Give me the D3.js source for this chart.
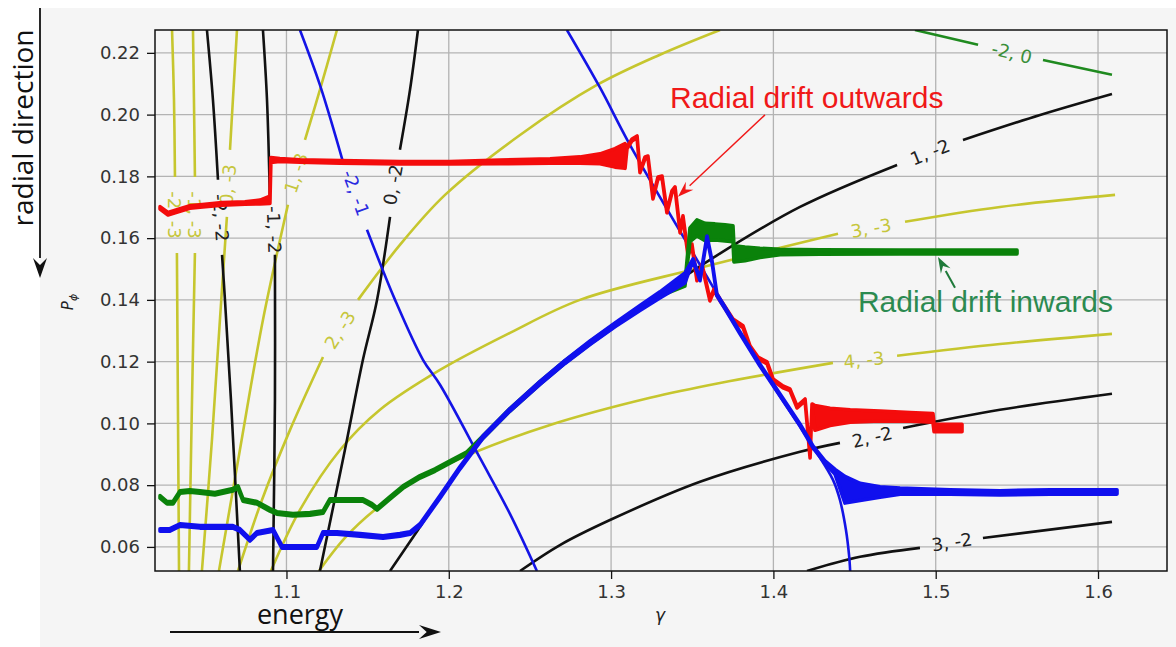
<!DOCTYPE html>
<html>
<head>
<meta charset="utf-8">
<script src="https://cdn.jsdelivr.net/npm/d3@7"></script>
<style>
  body { margin: 0; background: #fff; }
  svg { display: block; }
</style>
</head>
<body>
<svg id="chart"></svg>
<script>
// axis ranges and ticks
const xDomain = [1.019, 1.6425];
const yDomain = [0.0522, 0.2274];
const xTicks = [1.1, 1.2, 1.3, 1.4, 1.5, 1.6];
const yTicks = [0.06, 0.08, 0.10, 0.12, 0.14, 0.16, 0.18, 0.20, 0.22];

// resonance lines (n, m): label, label anchor [gamma, P, angle], segments
const yellowFamily = [
  {label: "-2, -3", at: [1.0313, 0.1675, 90], segs: [[[1.0295,0.2274],[1.0307,0.2048],[1.0313,0.1798]], [[1.0325,0.1552],[1.0331,0.1076],[1.0338,0.0522]]]},
  {label: "-1, -3", at: [1.0436, 0.1675, 90], segs: [[[1.0424,0.2274],[1.0430,0.2048],[1.0436,0.1798]], [[1.0436,0.1552],[1.0418,0.1076],[1.0399,0.0522]]]},
  {label: "0, -3", at: [1.0639, 0.1773, -85], segs: [[[1.0695,0.2274],[1.0670,0.2048],[1.0652,0.1886]], [[1.0633,0.1669],[1.0590,0.1335],[1.0541,0.0947],[1.0479,0.0522]]]},
  {label: "1, -3", at: [1.1059, 0.1811, -72], segs: [[[1.1311,0.2274],[1.1206,0.2080],[1.1114,0.1918]], [[1.1009,0.1708],[1.0855,0.1335],[1.0713,0.0914],[1.0584,0.0522]]]},
  {label: "2, -3", at: [1.1330, 0.1303, -57], segs: [[[1.3671,0.2274],[1.3301,0.2194],[1.2913,0.2096],[1.2439,0.1934],[1.1977,0.1740],[1.1699,0.1578],[1.1441,0.1400]], [[1.1225,0.1215],[1.1022,0.0979],[1.0849,0.0752],[1.0701,0.0522]]]},
  {label: "3, -3", at: [1.4601, 0.1633, -10], segs: [[[1.0904,0.0522],[1.1083,0.0720],[1.1330,0.0914],[1.1576,0.1044],[1.1946,0.1173],[1.2377,0.1293],[1.2808,0.1400],[1.3548,0.1504],[1.4398,0.1614]], [[1.4811,0.1653],[1.5396,0.1701],[1.6105,0.1740]]]},
  {label: "4, -3", at: [1.4558, 0.1206, -6], segs: [[[1.1200,0.0522],[1.1360,0.0629],[1.1545,0.0720],[1.1823,0.0824],[1.2149,0.0904],[1.2624,0.0995],[1.3240,0.1083],[1.3671,0.1131],[1.4367,0.1196]], [[1.4762,0.1219],[1.5396,0.1257],[1.6086,0.1290]]]}
];

const blackFamily = [
  {label: "-2, -2", at: [1.0596, 0.1666, 86], segs: [[[1.0510,0.2274],[1.0547,0.2048],[1.0578,0.1789]], [[1.0603,0.1546],[1.0621,0.1400],[1.0658,0.1076],[1.0713,0.0522]]]},
  {label: "-1, -2", at: [1.0923, 0.1627, 88], segs: [[[1.0855,0.2274],[1.0880,0.2048],[1.0898,0.1724]], [[1.0929,0.1546],[1.0929,0.1076],[1.0917,0.0522]]]},
  {label: "0, -2", at: [1.1656, 0.1773, -80], segs: [[[1.1810,0.2274],[1.1761,0.2080],[1.1699,0.1886]], [[1.1638,0.1669],[1.1558,0.1400],[1.1471,0.1206],[1.1360,0.0914],[1.1206,0.0522]]]},
  {label: "1, -2", at: [1.4965, 0.1879, -22], segs: [[[1.1638,0.0522],[1.1810,0.0655],[1.1946,0.0762],[1.2211,0.0956],[1.2562,0.1131],[1.2870,0.1261],[1.3178,0.1368],[1.3425,0.1465],[1.3628,0.1536],[1.4164,0.1701],[1.4762,0.1837]], [[1.5168,0.1918],[1.5643,0.1999],[1.6086,0.2067]]]},
  {label: "2, -2", at: [1.4608, 0.0956, -13], segs: [[[1.2439,0.0522],[1.2685,0.0606],[1.2993,0.0687],[1.3548,0.0811],[1.4164,0.0908],[1.4410,0.0937]], [[1.4799,0.0985],[1.5396,0.1044],[1.6086,0.1096]]]},
  {label: "3, -2", at: [1.5100, 0.0616, -9], segs: [[[1.4207,0.0522],[1.4534,0.0568],[1.4903,0.0597]], [[1.5291,0.0629],[1.6086,0.0681]]]}
];

const blueFamily = [
  {label: "-2, -1", at: [1.1428, 0.1747, 70], segs: [[[1.1083,0.2274],[1.1206,0.2096],[1.1348,0.1847]], [[1.1496,0.1627],[1.1669,0.1400],[1.1841,0.1206],[1.1946,0.1125],[1.2192,0.0888],[1.2377,0.0707],[1.2543,0.0522]]]},
  {label: "", at: null, segs: [[[1.2728,0.2274],[1.2932,0.2087],[1.3116,0.1902],[1.3548,0.1513],[1.3917,0.1189],[1.4244,0.0924],[1.4367,0.0817],[1.4410,0.0752],[1.4447,0.0655],[1.4466,0.0574],[1.4473,0.0522]]]}
];

const greenFamily = [
  {label: "-2, 0", at: [1.5470, 0.2200, 14], segs: [[[1.4872,0.2274],[1.5261,0.2226]], [[1.5661,0.2177],[1.6086,0.2129]]]}
];

// particle tracks: [gamma, P_phi, half-width of the oscillation]
const redTrack = [
  [1.0221,0.1698,.0004],[1.0270,0.1679,.0004],[1.0344,0.1691,.0004],[1.0405,0.1701,.0004],[1.0467,0.1704,.0004],
  [1.0603,0.1711,.0004],[1.0744,0.1714,.0004],[1.0837,0.1717,.0006],[1.0898,0.1724,.0012],[1.0904,0.1853,.0008],
  [1.0959,0.1853,.0005],[1.1083,0.1850,.0004],[1.1330,0.1847,.0004],[1.1699,0.1844,.0004],[1.2007,0.1844,.0004],
  [1.2315,0.1847,.0006],[1.2624,0.1850,.0007],[1.2808,0.1853,.0010],[1.2932,0.1857,.0016],[1.3024,0.1860,.0030],
  [1.3086,0.1866,.0040],[1.3098,0.1892,.0003],[1.3129,0.1918,.0003],[1.3160,0.1928,.0003],[1.3178,0.1815,.0003],
  [1.3209,0.1860,.0003],[1.3227,0.1863,.0003],[1.3258,0.1730,.0003],[1.3289,0.1795,.0003],[1.3314,0.1798,.0003],
  [1.3344,0.1685,.0003],[1.3375,0.1750,.0003],[1.3394,0.1763,.0003],[1.3425,0.1620,.0003],[1.3443,0.1669,.0003],
  [1.3474,0.1546,.0003],[1.3498,0.1578,.0003],[1.3529,0.1465,.0003],[1.3560,0.1513,.0003],[1.3609,0.1400,.0003],
  [1.3634,0.1432,.0003],[1.3671,0.1400,.0003],[1.3751,0.1335,.0003],[1.3813,0.1313,.0003],[1.3856,0.1248,.0003],
  [1.3905,0.1212,.0003],[1.3961,0.1196,.0003],[1.3998,0.1141,.0003],[1.4059,0.1118,.0003],[1.4102,0.1109,.0003],
  [1.4146,0.1053,.0003],[1.4195,0.1076,.0003],[1.4226,0.0891,.0003],[1.4238,0.1060,.0003],[1.4256,0.1018,.0040],
  [1.4349,0.1021,.0028],[1.4473,0.1024,.0020],[1.4657,0.1024,.0016],[1.4842,0.1021,.0014],[1.4983,0.1018,.0014],
  [1.4990,0.0985,.0012],[1.5070,0.0985,.0012],[1.5162,0.0985,.0012]
];

const greenTrack = [
  [1.0221,0.0762,.0004],[1.0264,0.0743,.0004],[1.0301,0.0743,.0004],[1.0344,0.0778,.0004],[1.0405,0.0781,.0004],
  [1.0467,0.0778,.0004],[1.0559,0.0772,.0004],[1.0670,0.0785,.0004],[1.0701,0.0794,.0004],[1.0732,0.0752,.0004],
  [1.0818,0.0743,.0004],[1.0898,0.0720,.0004],[1.0941,0.0710,.0004],[1.1040,0.0704,.0004],[1.1145,0.0707,.0004],
  [1.1225,0.0713,.0004],[1.1268,0.0752,.0004],[1.1360,0.0752,.0004],[1.1471,0.0752,.0004],[1.1527,0.0736,.0004],
  [1.1558,0.0723,.0004],[1.1638,0.0759,.0004],[1.1718,0.0794,.0004],[1.1823,0.0827,.0004],[1.1915,0.0849,.0004],
  [1.2007,0.0875,.0004],[1.2112,0.0904,.0004],[1.2211,0.0956,.0004],[1.2377,0.1044,.0004],[1.2562,0.1131,.0004],
  [1.2716,0.1199,.0004],[1.2870,0.1261,.0004],[1.3024,0.1319,.0004],[1.3178,0.1374,.0004],[1.3301,0.1416,.0004],
  [1.3455,0.1449,.0004],[1.3486,0.1611,.0022],[1.3529,0.1633,.0026],[1.3579,0.1620,.0028],[1.3640,0.1620,.0026],
  [1.3702,0.1617,.0026],[1.3751,0.1614,.0026],[1.3757,0.1549,.0026],[1.3825,0.1549,.0022],[1.3917,0.1552,.0015],
  [1.4041,0.1555,.0009],[1.4287,0.1555,.0007],[1.4780,0.1555,.0006],[1.5501,0.1555,.0006]
];

const blueTrack = [
  [1.0221,0.0655,.0004],[1.0282,0.0655,.0004],[1.0344,0.0671,.0004],[1.0467,0.0665,.0004],[1.0670,0.0665,.0004],
  [1.0713,0.0655,.0004],[1.0775,0.0623,.0004],[1.0818,0.0645,.0004],[1.0917,0.0655,.0004],[1.0972,0.0600,.0004],
  [1.1083,0.0600,.0004],[1.1188,0.0600,.0004],[1.1225,0.0645,.0004],[1.1311,0.0645,.0004],[1.1453,0.0639,.0004],
  [1.1595,0.0632,.0004],[1.1699,0.0639,.0004],[1.1761,0.0645,.0004],[1.1823,0.0671,.0004],[1.1946,0.0762,.0004],
  [1.2069,0.0856,.0004],[1.2211,0.0956,.0004],[1.2377,0.1044,.0004],[1.2562,0.1131,.0005],[1.2716,0.1199,.0005],
  [1.2870,0.1261,.0006],[1.3024,0.1319,.0006],[1.3178,0.1374,.0008],[1.3301,0.1416,.0010],[1.3394,0.1449,.0014],
  [1.3455,0.1471,.0016],[1.3505,0.1530,.0003],[1.3548,0.1465,.0003],[1.3591,0.1604,.0003],[1.3622,0.1523,.0003],
  [1.3652,0.1416,.0003],[1.3702,0.1374,.0003],[1.3794,0.1293,.0003],[1.3917,0.1189,.0003],[1.4041,0.1092,.0003],
  [1.4164,0.0995,.0003],[1.4244,0.0924,.0003],[1.4318,0.0875,.0004],[1.4380,0.0843,.0008],[1.4441,0.0785,.0043],
  [1.4534,0.0778,.0028],[1.4657,0.0778,.0017],[1.4780,0.0781,.0010],[1.5088,0.0778,.0007],[1.5396,0.0775,.0007],
  [1.5704,0.0778,.0007],[1.6117,0.0778,.0007]
];

// annotations in data units: text anchor and arrow from -> to
const outwardNote = {text: "Radial drift outwards", at: [1.3363, 0.2022], from: [1.3948, 0.1999], to: [1.3412, 0.1734]};
const inwardNote = {text: "Radial drift inwards", at: [1.4521, 0.1361], from: [1.5119, 0.1439], to: [1.5014, 0.1539]};

const width = 1176;
const height = 647;
const plot = {left: 155, right: 1167, top: 30, bottom: 571};

const svg = d3.select("#chart")
              .attr("width", width)
              .attr("height", height);

svg.append("rect")
   .attr("x", 40).attr("y", 8)
   .attr("width", width - 40).attr("height", height - 8)
   .attr("fill", "#f5f5f5");

const x = d3.scaleLinear().domain(xDomain).range([plot.left, plot.right]);
const y = d3.scaleLinear().domain(yDomain).range([plot.bottom, plot.top]);

svg.append("clipPath")
   .attr("id", "clip")
   .append("rect")
   .attr("x", plot.left).attr("y", plot.top)
   .attr("width", plot.right - plot.left).attr("height", plot.bottom - plot.top);

// grid
const grid = svg.append("g").attr("stroke", "#b3b3b3").attr("stroke-width", 1.3);
grid.selectAll(".gx").data(xTicks).enter().append("line")
    .attr("x1", d => x(d)).attr("x2", d => x(d))
    .attr("y1", plot.top).attr("y2", plot.bottom);
grid.selectAll(".gy").data(yTicks).enter().append("line")
    .attr("x1", plot.left).attr("x2", plot.right)
    .attr("y1", d => y(d)).attr("y2", d => y(d));

const line = d3.line()
               .x(d => x(d[0]))
               .y(d => y(d[1]))
               .curve(d3.curveCatmullRom);

const body = svg.append("g").attr("clip-path", "url(#clip)");

function drawFamily(family, color, textColor) {
  family.forEach(c => {
    c.segs.forEach(s => {
      body.append("path")
          .attr("d", line(s))
          .attr("fill", "none")
          .attr("stroke", color)
          .attr("stroke-width", 2.6);
    });
    if (c.at) {
      body.append("text")
          .attr("transform", `translate(${x(c.at[0])},${y(c.at[1])}) rotate(${c.at[2]})`)
          .attr("text-anchor", "middle")
          .attr("dominant-baseline", "central")
          .attr("font-family", "DejaVu Sans")
          .attr("font-size", 18)
          .attr("fill", textColor)
          .text(c.label);
    }
  });
}

drawFamily(yellowFamily, "#c6c62e", "#c6c63c");
drawFamily(blackFamily, "#111", "#222");
drawFamily(blueFamily, "#1414e6", "#2a2ae0");
drawFamily(greenFamily, "#1f8a1f", "#3a8f3a");

const band = d3.area()
               .x(d => x(d[0]))
               .y0(d => y(d[1] - d[2]))
               .y1(d => y(d[1] + d[2]));

function drawTrack(track, color) {
  body.append("path")
      .attr("d", band(track))
      .attr("fill", color)
      .attr("stroke", color)
      .attr("stroke-width", 3.6)
      .attr("stroke-linejoin", "round");
}

drawTrack(redTrack, "#f40c0c");
drawTrack(greenTrack, "#0a820a");
drawTrack(blueTrack, "#1010ee");

// frame and axes
svg.append("rect")
   .attr("x", plot.left).attr("y", plot.top)
   .attr("width", plot.right - plot.left).attr("height", plot.bottom - plot.top)
   .attr("fill", "none").attr("stroke", "#111").attr("stroke-width", 1.5);

const xAxis = d3.axisBottom(x).tickValues(xTicks).tickSize(8).tickPadding(6).tickFormat(d3.format(".1f"));
const yAxis = d3.axisLeft(y).tickValues(yTicks).tickSize(8).tickPadding(7).tickFormat(d3.format(".2f"));

const gx = svg.append("g").attr("transform", `translate(0,${plot.bottom})`).call(xAxis);
const gy = svg.append("g").attr("transform", `translate(${plot.left},0)`).call(yAxis);
[gx, gy].forEach(g => {
  g.select(".domain").remove();
  g.selectAll(".tick line").attr("stroke", "#111").attr("stroke-width", 1.3);
  g.selectAll(".tick text")
   .attr("font-family", "DejaVu Sans")
   .attr("font-size", 18)
   .attr("fill", "#333");
});

// axis labels
svg.append("text")
   .attr("transform", "translate(73,302) rotate(-90)")
   .attr("text-anchor", "middle")
   .attr("font-family", "DejaVu Sans")
   .attr("fill", "#222")
   .call(t => {
     t.append("tspan").attr("font-size", 15).attr("font-style", "italic").text("P");
     t.append("tspan").attr("font-size", 11).attr("font-style", "italic").attr("dy", 4).text("ϕ");
   });

svg.append("text")
   .attr("x", 660).attr("y", 621)
   .attr("text-anchor", "middle")
   .attr("font-family", "DejaVu Sans")
   .attr("font-style", "italic")
   .attr("font-size", 17)
   .attr("fill", "#222")
   .text("γ");

function arrow(x1, y1, x2, y2, color, w, hl, hw) {
  const a = Math.atan2(y2 - y1, x2 - x1);
  const bx = x2 - hl * Math.cos(a), by = y2 - hl * Math.sin(a);
  const px = -Math.sin(a) * hw / 2, py = Math.cos(a) * hw / 2;
  svg.append("line")
     .attr("x1", x1).attr("y1", y1).attr("x2", bx).attr("y2", by)
     .attr("stroke", color).attr("stroke-width", w);
  svg.append("path")
     .attr("d", `M${x2},${y2}L${bx + px},${by + py}L${bx + 0.35 * hl * Math.cos(a)},${by + 0.35 * hl * Math.sin(a)}L${bx - px},${by - py}Z`)
     .attr("fill", color);
}

// annotations
svg.append("text")
   .attr("x", x(outwardNote.at[0])).attr("y", y(outwardNote.at[1]))
   .attr("font-family", "Liberation Sans")
   .attr("font-size", 30)
   .attr("fill", "#f01818")
   .text(outwardNote.text);
arrow(x(outwardNote.from[0]), y(outwardNote.from[1]), x(outwardNote.to[0]), y(outwardNote.to[1]), "#f01818", 1.5, 16, 11);

svg.append("text")
   .attr("x", x(inwardNote.at[0])).attr("y", y(inwardNote.at[1]))
   .attr("font-family", "Liberation Sans")
   .attr("font-size", 30)
   .attr("fill", "#2b8a50")
   .text(inwardNote.text);
arrow(x(inwardNote.from[0]), y(inwardNote.from[1]), x(inwardNote.to[0]), y(inwardNote.to[1]), "#1f7a3a", 2, 16, 11);

// direction hints outside the axes
svg.append("text")
   .attr("transform", "translate(33,128) rotate(-90)")
   .attr("text-anchor", "middle")
   .attr("font-family", "Open Sans")
   .attr("font-size", 28)
   .attr("fill", "#111")
   .text("radial direction");
arrow(40, 8, 40, 278, "#111", 1.8, 20, 14);

svg.append("text")
   .attr("x", 300).attr("y", 624)
   .attr("text-anchor", "middle")
   .attr("font-family", "Open Sans")
   .attr("font-size", 27)
   .attr("fill", "#111")
   .text("energy");
arrow(170, 632, 441, 632, "#111", 1.8, 22, 14);
</script>
</body>
</html>
